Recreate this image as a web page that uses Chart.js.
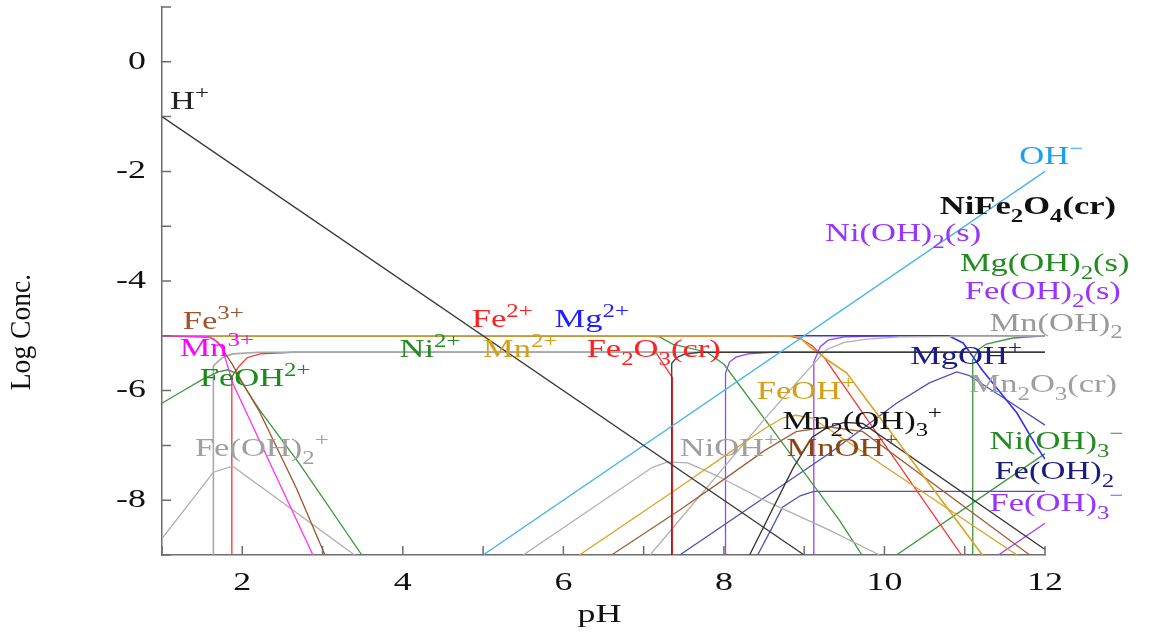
<!DOCTYPE html>
<html>
<head>
<meta charset="utf-8">
<script src="https://cdn.jsdelivr.net/npm/chart.js@4.4.1/dist/chart.umd.min.js"></script>
<style>
  html, body { margin: 0; padding: 0; background: #fff; }
  canvas { display: block; }
</style>
</head>
<body>
<canvas id="chart" width="1149" height="639"></canvas>
<script>
// species curves, [pH, log conc] pairs
const hPlus    = [[1, -1], [9, -9]];
const ohMinus  = [[5, -9], [12, -2]];
const fe3      = [[1, -5], [1.6, -5.03], [1.7, -5.12], [1.8, -5.35], [1.88, -5.53], [2.0, -5.85], [2.22, -6.4], [2.68, -7.8], [3.03, -9]];
const mn3      = [[1, -5], [1.55, -5.01], [1.65, -5.06], [1.75, -5.22], [1.88, -5.86], [2.5, -7.81], [2.88, -9]];
const feOH2p   = [[1, -6.23], [1.3, -5.97], [1.5, -5.8], [1.7, -5.66], [1.82, -5.62], [1.92, -5.68], [2.05, -5.98], [2.22, -6.36], [2.72, -7.35], [3.49, -9]];
const feOH2plus= [[1, -8.7], [1.64, -7.49], [1.88, -7.38], [3.4, -9]];
const fe2o3    = [[1.87, -9], [1.87, -5.75], [1.95, -5.57], [2.06, -5.4], [2.22, -5.33], [2.63, -5.3], [7.15, -5.3], [7.36, -5.77], [7.36, -9]];
const mn2o3    = [[1.64, -9], [1.64, -5.55], [1.75, -5.4], [1.88, -5.33], [2.2, -5.3], [12, -5.3]];
const nife2o4  = [[7.35, -9], [7.35, -5.5], [7.41, -5.4], [7.5, -5.34], [7.7, -5.3], [12, -5.3]];
const fe2      = [[1, -5], [8.8, -5], [8.95, -5.05], [9.1, -5.18], [9.25, -5.4], [10.96, -9]];
const mg2      = [[1, -5], [10.8, -5], [10.98, -5.13], [11.22, -5.63], [11.65, -6.41], [11.9, -7.03], [12, -7.25]];
const mn2      = [[1, -5], [8.85, -5], [8.95, -5.04], [9.07, -5.2], [9.3, -5.45], [9.53, -5.68], [11.22, -9]];
const ni2      = [[1, -5], [7.0, -5], [7.2, -5.02], [7.36, -5.15], [7.79, -5.3], [8.0, -5.52], [8.61, -6.72], [9.44, -8.37], [9.72, -9]];
const niOH     = [[5.5, -9], [7.11, -7.4], [7.3, -7.3], [7.55, -7.32], [7.91, -7.55], [8.5, -8.0], [9.32, -8.55], [9.94, -9]];
const feOH     = [[6.2, -9], [7.45, -7.76], [8.0, -7.2], [8.5, -6.7], [8.73, -6.5], [8.9, -6.45], [9.1, -6.5], [9.57, -6.96], [11.65, -9]];
const mnOH     = [[6.6, -9], [7.45, -8.18], [8.0, -7.62], [8.5, -7.1], [8.9, -6.75], [9.3, -6.66], [9.73, -6.75], [11.81, -9]];
const mn2OH3   = [[8.32, -9], [8.86, -7.42], [9.1, -6.85], [9.28, -6.68], [9.5, -6.58], [9.73, -6.6], [12, -8.9]];
const feOH2aq  = [[8.42, -9], [8.6, -8.5], [8.73, -8.13], [8.95, -7.92], [9.12, -7.84], [12, -7.84]];
const mgOH     = [[7.45, -9], [9.32, -7.14], [10.15, -6.23], [10.56, -5.86], [10.9, -5.66], [11.05, -5.72], [11.5, -6.15], [12, -6.63]];
const mnOH2    = [[7.08, -9], [8.53, -6.48], [9.0, -5.7], [9.28, -5.25], [9.5, -5.12], [9.78, -5.06], [10.2, -5.02], [12, -5.0]];
const niOH2s   = [[8.02, -9], [8.02, -5.68], [8.07, -5.48], [8.15, -5.39], [8.3, -5.33], [8.6, -5.3], [12, -5.3]];
const feOH2s   = [[9.12, -9], [9.12, -5.48], [9.2, -5.2], [9.3, -5.08], [9.5, -5.02], [10, -5.0], [12, -5.0]];
const mgOH2s   = [[11.1, -9], [11.1, -5.44], [11.17, -5.25], [11.27, -5.15], [11.6, -5.04], [12, -5.0]];
const niOH3    = [[10.15, -9], [12, -7.15]];
const feOH3    = [[11.42, -9], [12, -8.42]];

// axis ranges and tick labels
const xRange = [1, 12];
const yRange = [-9, 1];
const xTickLabels = ['2', '4', '6', '8', '10', '12'];
const yTickLabels = ['-8', '-6', '-4', '-2', '0'];

// text labels placed in data space: text, pH, log (baseline), colour
const notes = [
    ['H^{+}', 1.10, -0.86, '#222222'],
    ['OH^{−}', 11.68, -1.86, '#1aa0f5'],
    ['NiFe_2O_4(cr)', 10.69, -2.78, '#111111', true],
    ['Ni(OH)_2(s)', 9.26, -3.27, '#9933ff'],
    ['Mg(OH)_2(s)', 10.94, -3.82, '#228b22'],
    ['Fe(OH)_2(s)', 11.0, -4.33, '#9933ff'],
    ['Mn(OH)_2', 11.31, -4.91, '#9a9a9a'],
    ['Fe^{3+}', 1.26, -4.88, '#a0522d'],
    ['Fe^{2+}', 4.86, -4.84, '#ff2020'],
    ['Mg^{2+}', 5.89, -4.84, '#2020ff'],
    ['Mn^{3+}', 1.22, -5.37, '#ff00ff'],
    ['Ni^{2+}', 3.96, -5.39, '#228b22'],
    ['Mn^{2+}', 5.0, -5.39, '#d4a017'],
    ['Fe_2O_3(cr)', 6.29, -5.39, '#ff2020'],
    ['MgOH^{+}', 10.32, -5.52, '#1c1c80'],
    ['FeOH^{2+}', 1.47, -5.92, '#1a8a1a'],
    ['FeOH^{+}', 8.41, -6.16, '#d4a017'],
    ['Mn_2O_3(cr)', 11.06, -6.03, '#a0a0a0'],
    ['Mn_2(OH)_3^{+}', 8.73, -6.70, '#111111'],
    ['Fe(OH)_2^{+}', 1.41, -7.2, '#a0a0a0'],
    ['NiOH^{+}', 7.45, -7.2, '#a0a0a0'],
    ['MnOH^{+}', 8.78, -7.2, '#8b4513'],
    ['Ni(OH)_3^{−}', 11.31, -7.07, '#228b22'],
    ['Fe(OH)_2', 11.37, -7.62, '#1c1c80'],
    ['Fe(OH)_3^{−}', 11.31, -8.2, '#9933ff']
];

const SERIF = '"Liberation Serif", "Times New Roman", serif';
const STRETCH = 1.38;

function toXY(arr) {
    return arr.map(p => ({ x: p[0], y: p[1] }));
}

function series(data, color, width) {
    return {
        data: toXY(data),
        borderColor: color,
        borderWidth: width || 1.3,
        pointRadius: 0,
        tension: 0,
        fill: false
    };
}

// draw text with _x subscripts and ^{..} superscripts, stretched horizontally
function drawRich(ctx, str, x, y, size, color, bold) {
    const w8 = bold ? 'bold ' : '';
    ctx.save();
    ctx.translate(x, y);
    ctx.scale(STRETCH, 1);
    ctx.fillStyle = color;
    ctx.textAlign = 'left';
    ctx.textBaseline = 'alphabetic';
    let cx = 0;
    let i = 0;
    while (i < str.length) {
        const c = str[i];
        if (c === '_' || c === '^') {
            let t;
            if (str[i + 1] === '{') {
                const j = str.indexOf('}', i);
                t = str.slice(i + 2, j);
                i = j + 1;
            } else {
                t = str[i + 1];
                i += 2;
            }
            ctx.font = w8 + Math.round(size * 0.72) + 'px ' + SERIF;
            const dy = c === '_' ? size * 0.3 : -size * 0.4;
            ctx.fillText(t, cx, dy);
            cx += ctx.measureText(t).width;
        } else {
            ctx.font = w8 + size + 'px ' + SERIF;
            ctx.fillText(c, cx, 0);
            cx += ctx.measureText(c).width;
            i++;
        }
    }
    ctx.restore();
}

function stretchedText(ctx, text, x, y, size, align) {
    ctx.save();
    ctx.translate(x, y);
    ctx.scale(STRETCH, 1);
    ctx.font = size + 'px ' + SERIF;
    ctx.fillStyle = '#111';
    ctx.textAlign = align;
    ctx.textBaseline = 'middle';
    ctx.fillText(text, 0, 0);
    ctx.restore();
}

const decorations = {
    id: 'decorations',
    afterDraw(chart) {
        const ctx = chart.ctx;
        const xs = chart.scales.x;
        const ys = chart.scales.y;
        const area = chart.chartArea;

        // inward tick marks
        ctx.save();
        ctx.strokeStyle = '#6e6e6e';
        ctx.lineWidth = 1.5;
        ctx.beginPath();
        xs.ticks.forEach(t => {
            const px = xs.getPixelForValue(t.value);
            ctx.moveTo(px, area.bottom);
            ctx.lineTo(px, area.bottom - 9);
        });
        ys.ticks.forEach(t => {
            const py = ys.getPixelForValue(t.value);
            ctx.moveTo(area.left, py);
            ctx.lineTo(area.left + 9, py);
        });
        ctx.stroke();
        ctx.restore();

        // tick labels
        xTickLabels.forEach(l => {
            stretchedText(ctx, l, xs.getPixelForValue(Number(l)), area.bottom + 28, 26, 'center');
        });
        yTickLabels.forEach(l => {
            stretchedText(ctx, l, area.left - 16, ys.getPixelForValue(Number(l)), 26, 'right');
        });

        // axis titles
        stretchedText(ctx, 'pH', (area.left + area.right) / 2 - 4, 615, 26, 'center');
        ctx.save();
        ctx.translate(22, 332);
        ctx.rotate(-Math.PI / 2);
        ctx.scale(1.15, 1.25);
        ctx.font = '24px ' + SERIF;
        ctx.fillStyle = '#111';
        ctx.textAlign = 'center';
        ctx.textBaseline = 'middle';
        ctx.fillText('Log Conc.', 0, 0);
        ctx.restore();

        // species labels
        notes.forEach(n => {
            drawRich(ctx, n[0], xs.getPixelForValue(n[1]), ys.getPixelForValue(n[2]), 25, n[3], n[4]);
        });
    }
};

new Chart(document.getElementById('chart'), {
    type: 'line',
    data: {
        datasets: [
            series(hPlus, '#3a3a3a'),
            series(ohMinus, '#45b4f2'),
            series(mn3, '#ff30ff'),
            series(fe3, '#a0522d'),
            series(feOH2p, '#3a9a3a'),
            series(feOH2plus, '#b0b0b0'),
            series(nife2o4, '#3a3a3a'),
            series(mn2o3, '#a8a8a8', 1.6),
            series(fe2o3, '#ff3030'),
            series(mn2, '#d9a528', 1.7),
            series(feOH, '#d9a528'),
            series(mnOH, '#a0603a'),
            series(mn2OH3, '#333333'),
            series(niOH, '#b0b0b0'),
            series(mnOH2, '#b0b0b0'),
            series(ni2, '#3a9a3a'),
            series(fe2, '#ff3030'),
            series(mg2, '#3030ff', 1.6),
            series(mgOH, '#5050b8'),
            series(feOH2aq, '#5050b8'),
            series(niOH2s, '#9a40ff'),
            series(feOH2s, '#9a40ff'),
            series(mgOH2s, '#3a9a3a'),
            series(niOH3, '#3a9a3a'),
            series(feOH3, '#9a40ff')
        ]
    },
    options: {
        responsive: false,
        animation: false,
        layout: { padding: { top: 7, right: 104, left: 0, bottom: 0 } },
        plugins: {
            legend: { display: false },
            tooltip: { enabled: false }
        },
        scales: {
            x: {
                type: 'linear',
                min: xRange[0],
                max: xRange[1],
                ticks: { display: false, stepSize: 1 },
                grid: { display: false, drawTicks: false },
                border: { display: true, color: '#6e6e6e', width: 1.5 },
                afterFit: s => { s.height = 84; }
            },
            y: {
                type: 'linear',
                min: yRange[0],
                max: yRange[1],
                ticks: { display: false, stepSize: 1 },
                grid: { display: false, drawTicks: false },
                border: { display: true, color: '#6e6e6e', width: 1.5 },
                afterFit: s => { s.width = 162; }
            }
        }
    },
    plugins: [decorations]
});
</script>
</body>
</html>
